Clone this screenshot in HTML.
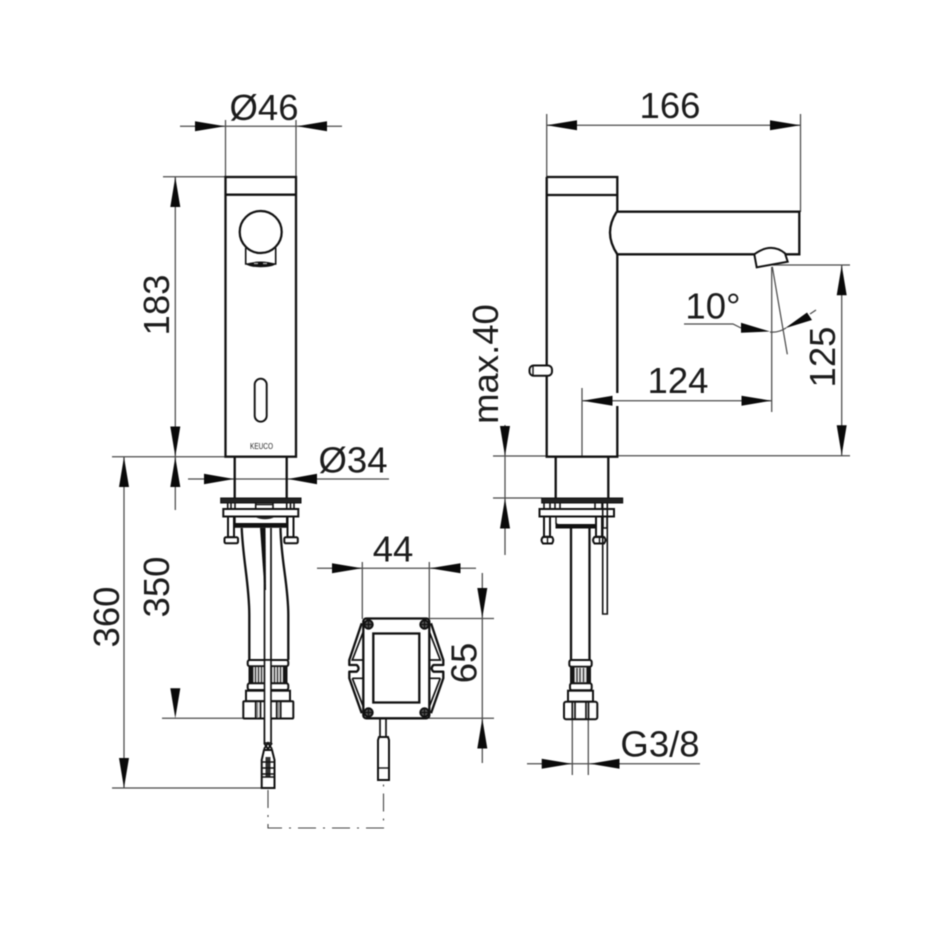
<!DOCTYPE html>
<html><head><meta charset="utf-8"><style>
html,body{margin:0;padding:0;background:#fff}
svg{display:block;filter:blur(.45px)}
text{font-family:"Liberation Sans",sans-serif;fill:#1c1c1c;text-anchor:middle}
.d{font-size:36.5px}
.o{fill:none;stroke:#111;stroke-width:2.3}
.t{fill:none;stroke:#111;stroke-width:1.4}
.m{fill:#fff;stroke:#111;stroke-width:2}
.l{fill:none;stroke:#4a4a4a;stroke-width:1.25}
.a{fill:#0a0a0a;stroke:none}
</style></head><body>
<svg width="950" height="950" viewBox="0 0 950 950" xmlns="http://www.w3.org/2000/svg">
<rect width="950" height="950" fill="#fff"/>

<!-- dimension lines -->
<path class="l" d="M180 126.3H342M225.5 120V177M296 120V177
M163 176.7H225M112 456.7H226M175.3 176.7V510M124 456.7V788M112 788H262M162 718.3H244
M188 479H389
M317 568.3H476M362.3 562V619M429.3 562V619M429 618.5H494M429 718.3H494M482.3 573V763
M546.7 125.3H800.5M546.7 114V177M800.5 114V212
M582 400.7H771.7M582 388V456M771.7 267V412
M841.7 265V455.5M773 265H850M617 455.7H850
M493 456H547M493 498H542M505 425V555
M527 763.7H700M572.3 719V775M588.3 719V775
M684 324H733L741 328M770 332Q778 333 786 328M810 314L816 310M772.3 266.7L787.3 354.3"/>
<path d="M268 790V828H383.5V781" fill="none" stroke="#444" stroke-width="1.1" stroke-dasharray="18 7 2 7"/>

<!-- arrowheads -->
<g class="a">
<path d="M195 121.3L225 126.3L195 131.3ZM327 121.3L297 126.3L327 131.3Z"/>
<path d="M175.3 177L170.3 207H180.3ZM175.3 456.5L170.3 426.5H180.3ZM175.3 457L170.3 487H180.3ZM175.3 718.3L170.3 688.3H180.3Z"/>
<path d="M124 457L119 487H129ZM124 788L119 758H129Z"/>
<path d="M204 473.8L234 479L204 484.2ZM317 473.8L288 479L317 484.2Z"/>
<path d="M332 563.3L362 568.3L332 573.3ZM460.5 563.3L430 568.3L460.5 573.3Z"/>
<path d="M482.3 618L477.3 588H487.3ZM482.3 718.5L477.3 748.5H487.3Z"/>
<path d="M546.7 125.3L577 120.3V130.3ZM800.3 125.3L770 120.3V130.3Z"/>
<path d="M582.5 400.7L612.5 395.7V405.7ZM771.5 400.7L741.5 395.7V405.7Z"/>
<path d="M841.7 265.3L836.7 295.3H846.7ZM841.7 455.3L836.7 425.3H846.7Z"/>
<path d="M505 456L500 426H510ZM505 498.5L500 528.5H510Z"/>
<path d="M541.7 758.7L571.7 763.7L541.7 768.7ZM619.5 758.7L590 763.7L619.5 768.7Z"/>
<path d="M741 322.7L770 331.5L741 332.8ZM785 328.3L807 312.5L812 320Z"/>
</g>

<!-- front view -->
<g>
<rect class="o" x="225.5" y="177" width="70.5" height="279.7"/>
<path class="o" d="M225.5 194.7H296"/>
<path class="t" d="M245.7 248V264H275.7V248" style="stroke-width:1.6"/>
<path d="M245.5 264Q260.7 259 276 264Q272 267.2 260.7 267.2Q249 267.2 245.5 264Z" fill="#111"/>
<path d="M254 263.5H258M263 263.5H267" stroke="#bbb" stroke-width="1.2"/>
<circle cx="260.7" cy="232" r="21" fill="#fff" stroke="#111" stroke-width="2.2"/>
<rect x="254.7" y="378.7" width="12" height="43" rx="6" class="t" style="stroke-width:1.9"/>
<text x="261.5" y="449" font-size="8.5" textLength="23" lengthAdjust="spacingAndGlyphs">KEUCO</text>
<path class="o" d="M234.7 457V498M286.7 457V498"/>
<rect x="220.7" y="498" width="80.3" height="5" fill="#222" stroke="#111"/>
<path class="t" d="M227.7 503V509M231 503V509M235 503V509M255.7 503V509M273 503V509M286.7 503V509M290.5 503V509M294 503V509M255.7 504.5H273" style="stroke-width:1.6"/>
<rect class="m" x="223.3" y="509" width="75" height="7.5"/>
<path class="t" d="M235 516.5V524M286.7 516.5V524" />
<rect x="235" y="523" width="51.7" height="4.8" fill="#111"/>
<path d="M255 517H275Q265 521.5 255 517Z" fill="#222"/>
<rect class="m" x="228" y="516.5" width="6" height="20.7"/>
<rect class="m" x="224.5" y="537.3" width="13.5" height="6" rx="1.5"/>
<rect class="m" x="287.5" y="516.5" width="6" height="20.7"/>
<rect class="m" x="284.3" y="537.3" width="13.5" height="6" rx="1.5"/>
<path class="o" d="M241.7 528C243 560 249.3 585 249.3 615V660M280.5 528C281 560 288.3 585 288.3 615V660"/>
<path d="M260 527.7L265.5 527.7L266 590L264.5 590Z" fill="#111"/>
<path class="t" d="M264.5 528V743M271 528V743" style="stroke-width:1.7"/>
<rect class="m" x="247.7" y="660" width="40.6" height="6.3" rx="2"/>
<rect x="248.5" y="666.3" width="39" height="17" fill="#141414"/>
<rect x="253.3" y="667" width="10.7" height="15.5" fill="#ddd"/>
<rect x="272" y="667" width="11" height="15.5" fill="#ddd"/>
<path d="M255.5 667V682.5M258.5 667V682.5M261.5 667V682.5M274.5 667V682.5M277.5 667V682.5M280.5 667V682.5" stroke="#222" stroke-width="1.1"/>
<rect class="m" x="247.7" y="683.3" width="40.6" height="6.7" rx="2"/>
<rect class="m" x="246" y="690.7" width="44" height="10.5"/>
<rect class="m" x="243.3" y="701.2" width="50" height="17.3" rx="1"/>
<path class="t" d="M255.7 702V718M260.5 702V718M276.7 702V718M280.7 702V718" style="stroke-width:1.7"/>
<path d="M257.5 702V718M278.7 702V718" stroke="#777" stroke-width="1.2"/>
<rect x="264.5" y="660" width="6.5" height="83" fill="#fff" stroke="#111" stroke-width="1.6"/>
<path class="o" d="M264 743L268 749L272 743M264 749L268 743L272 749" style="stroke-width:1.8"/>
<path class="m" d="M264 750L261.7 760V788H274.5V760L272 750Z"/>
<rect x="265.5" y="757" width="5" height="20" fill="#333"/>
<path class="t" d="M261.7 762H274.5M261.7 768H274.5M261.7 774H274.5M261.7 777H274.5"/>
</g>

<!-- module -->
<g>
<path class="o" d="M361.7 623.3L349.3 660V665H356.7Q360.5 668.3 356.7 671.7H349.3V678.3L361.7 713.3M431 623.3L443.3 660V665H433.5Q429.8 668.3 433.5 671.7H443.3V678.3L431 713.3" stroke-linejoin="round"/>
<path class="t" d="M363.3 631.7L352.3 660H363.3M352.3 678.3H363.3M352.3 678.3L363.3 706.7M429.3 631.7L440.3 660H429.3M440.3 678.3H429.3M440.3 678.3L429.3 706.7" style="stroke-width:1.7"/>
<rect x="363.3" y="618.5" width="66" height="99.8" rx="3" fill="none" stroke="#111" stroke-width="2.3"/>
<rect class="o" x="373.3" y="633.5" width="46" height="69"/>
<g fill="#555" stroke="#111" stroke-width="2">
<circle cx="368.5" cy="624.5" r="4.2"/><circle cx="424.5" cy="624.5" r="4.2"/><circle cx="368.5" cy="712.5" r="4.2"/><circle cx="424.5" cy="712.5" r="4.2"/>
</g>
<path d="M365 624.5H372M368.5 621V628M421 624.5H428M424.5 621V628M365 712.5H372M368.5 709V716M421 712.5H428M424.5 709V716" stroke="#111" stroke-width="1.2"/>
<path class="t" d="M380 718.5V737M386 718.5V737" style="stroke-width:1.7"/>
<path class="m" d="M379 737H388L389 740V780H378V740Z"/>
<path class="t" d="M378 768H389"/>
</g>

<!-- side view -->
<g>
<path class="o" d="M546.7 177H617.3V211.7M546.7 177V456.7H617.3V406M617.3 254.3V393"/>
<path class="o" d="M546.7 195H617.3"/>
<path class="o" d="M616.7 211.7H799.3V254.3H786M754.5 254.3H617.3M616.7 211.7Q603 233 617.3 254.3"/>
<path class="m" d="M754.3 254.3L756.7 267.3L787.7 261.7L785 253.3Q771 242 754.3 254.3Z"/>
<rect class="m" x="529.5" y="365.5" width="22.5" height="10.2" rx="4"/>
<path class="t" d="M533 366V375"/>
<path class="o" d="M555.7 457V498M608.3 457V498"/>
<rect x="541.7" y="498" width="81" height="5" fill="#222" stroke="#111"/>
<path class="t" d="M544 503V509M550 503V509M555 503V509M560 503V509M595 503V509M602 503V509" style="stroke-width:1.6"/>
<rect class="m" x="539.5" y="509" width="74.5" height="7.5"/>
<path class="t" d="M556 516.5V524M595.7 516.5V524"/>
<path d="M555.5 522V528.5H597V524H559Q556.5 524 556.5 522Z" fill="#111"/>
<rect class="m" x="544" y="516.5" width="6" height="20.2"/>
<path class="m" d="M543 537H552Q554.5 540 552 543.5H543Q540 540 543 537Z"/>
<path d="M547.5 537V543.5" stroke="#111" stroke-width="1.4"/>
<rect class="m" x="596" y="516.5" width="6" height="20.2"/>
<path class="m" d="M594.5 537H604Q607 540 604 543.5H594.5Q591.5 540 594.5 537Z"/>
<path d="M599.5 537V543.5" stroke="#111" stroke-width="1.4"/>
<path class="t" d="M602.7 503V614H607.3V503" style="stroke-width:1.6"/>
<path d="M603 517V528H607V517" stroke="#111" stroke-width="1.6" fill="none"/>
<path class="o" d="M571 528V660M589.5 528V660"/>
<rect class="m" x="569.3" y="660" width="22.4" height="6.7" rx="2"/>
<rect x="570" y="666.7" width="21" height="16.6" fill="#141414"/>
<rect x="574.5" y="667.5" width="12" height="15" fill="#ddd"/>
<path d="M577 668V682M580 668V682M583.5 668V682" stroke="#222" stroke-width="1.1"/>
<rect class="m" x="570" y="683.3" width="21.7" height="7" rx="2"/>
<rect class="m" x="568" y="690.7" width="25" height="11"/>
<rect class="m" x="564" y="701.7" width="33.3" height="17.6" rx="2"/>
<path class="t" d="M572.3 702V719M575 702V719M586 702V719M588.5 702V719" style="stroke-width:1.7"/>
</g>

<!-- labels -->
<text class="d" x="264" y="120">Ø46</text>
<text class="d" x="670" y="118">166</text>
<text class="d" transform="translate(169 305) rotate(-90)">183</text>
<text class="d" x="353" y="472.7">Ø34</text>
<text class="d" transform="translate(119 617) rotate(-90)">360</text>
<text class="d" transform="translate(169 587) rotate(-90)">350</text>
<text class="d" x="393" y="561.7">44</text>
<text class="d" transform="translate(476.7 663) rotate(-90)">65</text>
<text class="d" x="660" y="756.7">G3/8</text>
<text class="d" x="678" y="393">124</text>
<text class="d" transform="translate(835 357) rotate(-90)">125</text>
<text class="d" x="713" y="318.3">10°</text>
<text class="d" transform="translate(498 364) rotate(-90)">max.40</text>
</svg>
</body></html>
